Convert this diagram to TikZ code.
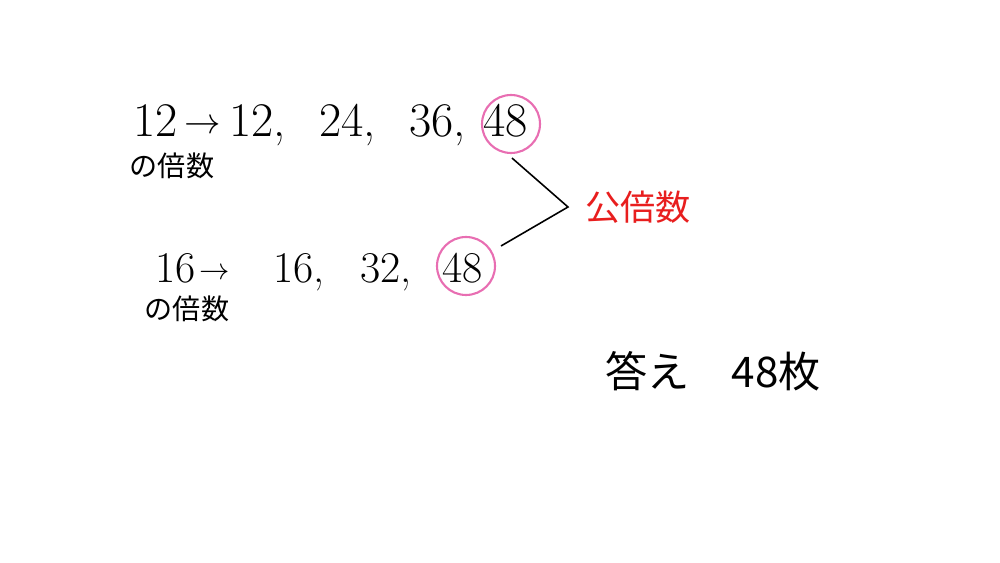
\documentclass[tikz,border=0pt]{standalone}
\usepackage{fontspec}
\newfontfamily\jpfont{Noto Sans CJK JP}
\usetikzlibrary{calc}
\definecolor{ringpink}{RGB}{232,110,178}
\definecolor{koured}{RGB}{232,30,30}
\tikzset{
 numA/.style={font=\fontsize{27.5}{27.5}\selectfont, inner sep=0pt, anchor=base west},
 numB/.style={font=\fontsize{25}{25}\selectfont, inner sep=0pt, anchor=base west},
 ring/.style={draw=ringpink, line width=1.2pt, circle, minimum size=1.16cm, inner sep=0pt},
 jp/.style={font=\jpfont\fontsize{16}{16}\selectfont, inner sep=0pt},
 link/.style={black, line width=0.9pt},
}

\begin{document}
\begin{tikzpicture}[x=0.02cm,y=-0.02cm]
\useasboundingbox (0,0) rectangle (1000,563);
% multiples of 12
\node[numA] (a0) at (133,137) {12};
\node[numA, font=\fontsize{21}{21}\selectfont] (ar) at (184,134) {$\rightarrow$};
\foreach \n/\x [count=\i] in {12/229,24/319,36/409} {
 \node[numA] (a\i) at (\x,137) {\n,};
}
\node[numA] (a4) at (483,137) {48};
\node[ring] (c1) at (511,124) {};
\node[jp] (m1) at (172,166) {の倍数};

% multiples of 16
\node[numB] (b0) at (155,283) {16};
\node[numB, font=\fontsize{18}{18}\selectfont] (br) at (199,280) {$\rightarrow$};
\foreach \n/\x [count=\i] in {16/273,32/360} {
 \node[numB] (b\i) at (\x,283) {\n,};
}
\node[numB] (b3) at (442,283) {48};
\node[ring] (c2) at (466,266) {};
\node[jp] (m2) at (187,309) {の倍数};

% common multiple
\node[jp, font=\jpfont\fontsize{20}{20}\selectfont, text=koured, anchor=west] (kou) at (585,207) {公倍数};
\coordinate (vtx) at ($(kou.west)+(-17,0)$);
\draw[link] ([shift={(1,4)}]c1.south) -- (vtx) -- ([shift={(9,-5)}]c2.30);

% answer
\node[jp, font=\jpfont\fontsize{24}{24}\selectfont] (ans) at (713,371) {答え　48枚};
\end{tikzpicture}
\end{document}
